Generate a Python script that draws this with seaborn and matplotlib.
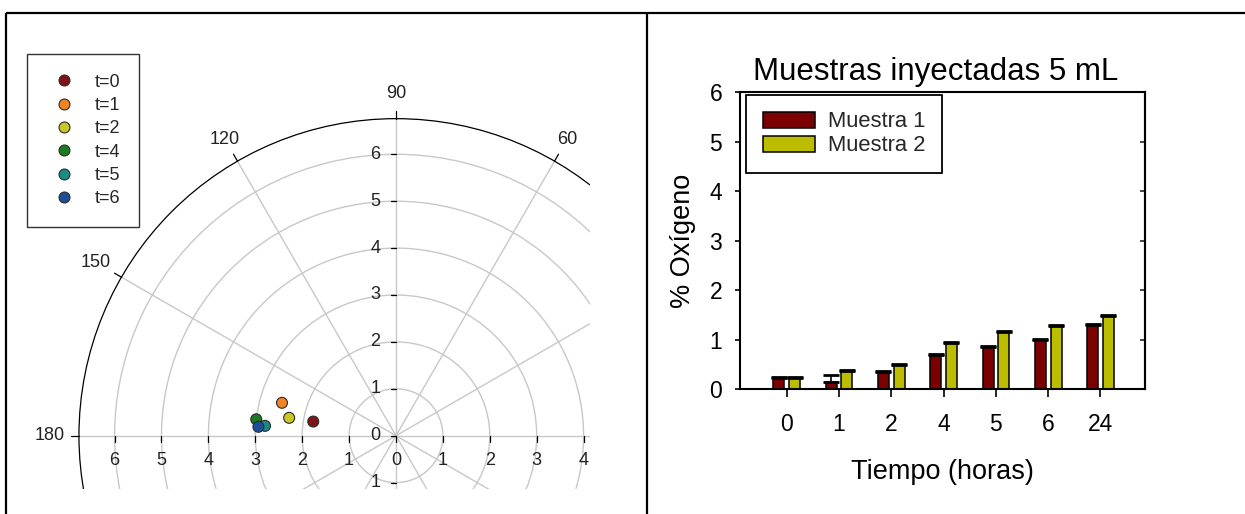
import numpy as np
import pandas as pd
import matplotlib
matplotlib.use("Agg")
import matplotlib.pyplot as plt
from matplotlib.patches import Circle
import seaborn as sns

# ---- colour-space points (hue angle in degrees, chroma) ----
tiempos = ["t=0", "t=1", "t=2", "t=4", "t=5", "t=6"]
angulo_hue = [170.3, 163.9, 170.5, 173.3, 175.7, 176.3]
croma = [1.79, 2.53, 2.31, 3.00, 2.80, 2.94]
colores_t = ["#7E1414", "#EE8424", "#C9C625", "#1C7A22", "#1E8A86", "#1D4F98"]

# ---- oxygen bars ----
horas = ["0", "1", "2", "4", "5", "6", "24"]
muestra1 = [0.23, 0.15, 0.34, 0.69, 0.86, 1.00, 1.30]
muestra2 = [0.23, 0.37, 0.50, 0.94, 1.15, 1.28, 1.48]
err1 = [0.02, 0.14, 0.02, 0.02, 0.01, 0.02, 0.02]
err2 = [0.02, 0.02, 0.02, 0.02, 0.02, 0.02, 0.02]
series = ["Muestra 1", "Muestra 2"]
colores_m = ["#7D0000", "#BDBD00"]

sns.set_theme(style="white")
plt.rcParams["font.family"] = ["Liberation Sans", "DejaVu Sans"]

W, H = 1245, 514
fig = plt.figure(figsize=(W / 100, H / 100), dpi=100)

# table-like frame around the two panels
frame = fig.add_axes([0, 0, 1, 1], zorder=-5)
frame.set_xlim(0, W)
frame.set_ylim(H, 0)
frame.axis("off")
for xs, ys in [([6, W], [13, 13]), ([6, 6], [13, H]), ([646.5, 646.5], [13, H])]:
    frame.plot(xs, ys, color="black", lw=1.6, solid_capstyle="butt")

# ================= left panel: polar chroma / hue diagram =================
u = 46.9           # pixels per chroma unit
ox, oy = 396, 435.7
left, right, top, bottom = 20, 590, 14, 489
axp = fig.add_axes([left / W, (H - bottom) / H, (right - left) / W, (bottom - top) / H])
axp.set_xlim((left - ox) / u, (right - ox) / u)
axp.set_ylim(-(bottom - oy) / u, (oy - top) / u)
axp.axis("off")

R_out = 6.76
grid_c = "#c8c8c8"
for r in range(1, 7):
    axp.add_patch(Circle((0, 0), r, fill=False, ec=grid_c, lw=1.0, zorder=1))
for ang in range(0, 360, 30):
    a = np.deg2rad(ang)
    axp.plot([0, R_out * np.cos(a)], [0, R_out * np.sin(a)], color=grid_c, lw=1.0, zorder=1)
axp.add_patch(Circle((0, 0), R_out, fill=False, ec="black", lw=0.9, zorder=2))

# angle ticks and labels on the outer arc
for ang, rl in [(60, 7.3), (90, 7.3), (120, 7.3), (150, 7.4)]:
    a = np.deg2rad(ang)
    axp.plot([R_out * np.cos(a), (R_out + 0.17) * np.cos(a)],
             [R_out * np.sin(a), (R_out + 0.17) * np.sin(a)], color="black", lw=0.9, clip_on=False)
    axp.text(rl * np.cos(a), rl * np.sin(a), str(ang), ha="center", va="center",
             fontsize=13, color="#222222")
axp.plot([-R_out, -R_out - 0.17], [0, 0], color="black", lw=0.9)
axp.text(-R_out - 0.3, 0, "180", ha="right", va="center", fontsize=13, color="#222222")

# radial scale along both axes
for k in range(-1, 7):
    axp.plot([-0.11, 0], [k, k], color="black", lw=0.9)
    axp.text(-0.33, k, str(abs(k)), ha="right", va="center", fontsize=13, color="#222222")
for k in range(-6, 5):
    axp.plot([k, k], [0, -0.13], color="black", lw=0.9)
    axp.text(k, -0.53, str(abs(k)), ha="center", va="center", fontsize=13, color="#222222")

pts = pd.DataFrame({"t": tiempos, "h": angulo_hue, "c": croma})
pts["a"] = pts["c"] * np.cos(np.deg2rad(pts["h"]))
pts["b"] = pts["c"] * np.sin(np.deg2rad(pts["h"]))
sns.scatterplot(data=pts, x="a", y="b", hue="t", hue_order=tiempos, palette=colores_t,
                s=62, edgecolor="#2b2b2b", linewidth=0.8, ax=axp, zorder=5, legend="full")
hnd, lab = axp.get_legend_handles_labels()
axp.legend(hnd, lab, loc="upper left", bbox_to_anchor=(27.3 / W, 1 - 54.3 / H),
           bbox_transform=fig.transFigure, borderaxespad=0, fontsize=13,
           frameon=True, fancybox=False, edgecolor="#333333", framealpha=1,
           borderpad=1.07, labelspacing=0.35, handlelength=1.93, handletextpad=0.72,
           markerscale=1.0).get_frame().set_linewidth(1.0)

# ================= right panel: oxygen bars =================
x_l, x_r, y_t, y_b = 740, 1145, 92.3, 389.3
axb = fig.add_axes([x_l / W, (H - y_b) / H, (x_r - x_l) / W, (y_b - y_t) / H])

bars = pd.DataFrame({
    "Tiempo": horas * 2,
    "Serie": [series[0]] * len(horas) + [series[1]] * len(horas),
    "Oxigeno": muestra1 + muestra2,
})
sns.barplot(data=bars, x="Tiempo", y="Oxigeno", hue="Serie", order=horas, hue_order=series,
            palette=colores_m, width=0.6, gap=0.3, edgecolor="black", linewidth=1.1,
            errorbar=None, saturation=1, ax=axb, zorder=2)

for cont, err in zip(axb.containers, [err1, err2]):
    xs = [p.get_x() + p.get_width() / 2 for p in cont.patches]
    hs = [p.get_height() for p in cont.patches]
    axb.errorbar(xs, hs, yerr=[np.zeros(len(err)), err], fmt="none", ecolor="black",
                 elinewidth=1.2, capsize=5.5, capthick=2.0, zorder=3)

axb.set_xlim(-0.893, 6.851)
axb.set_ylim(0, 6)
axb.set_yticks(range(0, 7))
for s in axb.spines.values():
    s.set_visible(True)
    s.set_color("black")
    s.set_linewidth(1.5)
axb.tick_params(axis="y", which="major", left=True, direction="out", length=3.8, width=1.2,
                labelsize=16.5, pad=9, colors="black")
axb.tick_params(axis="x", which="major", bottom=True, direction="out", length=5.8, width=1.2,
                labelsize=16.5, pad=11, colors="black")
sec = axb.secondary_yaxis("right")
sec.set_yticks(range(1, 6))
sec.tick_params(direction="in", length=3.8, width=1.2, labelright=False)
sec.spines["right"].set_linewidth(1.5)

axb.set_xlabel("Tiempo (horas)", fontsize=19.5, color="black")
axb.set_ylabel("% Oxígeno", fontsize=19.5, color="black")
axb.xaxis.set_label_coords(0.5, -0.278)
axb.yaxis.set_label_coords(-0.1407, 0.5)
axb.xaxis.label.set_va("center")
axb.yaxis.label.set_va("center")
axb.text(0.484, 1.0414, "Muestras inyectadas 5 mL", transform=axb.transAxes,
         ha="center", va="baseline", fontsize=22.5, color="black")

hb, lb = axb.get_legend_handles_labels()
leg = axb.legend(hb, lb, loc="upper left", bbox_to_anchor=(0.0153, 0.9923), borderaxespad=0,
                 fontsize=15.8, frameon=True, fancybox=False, edgecolor="black", framealpha=1,
                 borderpad=0.76, labelspacing=0.14, handlelength=2.36, handleheight=0.75,
                 handletextpad=0.59)
leg.get_frame().set_linewidth(1.3)

fig.savefig("out.png", dpi=100)
